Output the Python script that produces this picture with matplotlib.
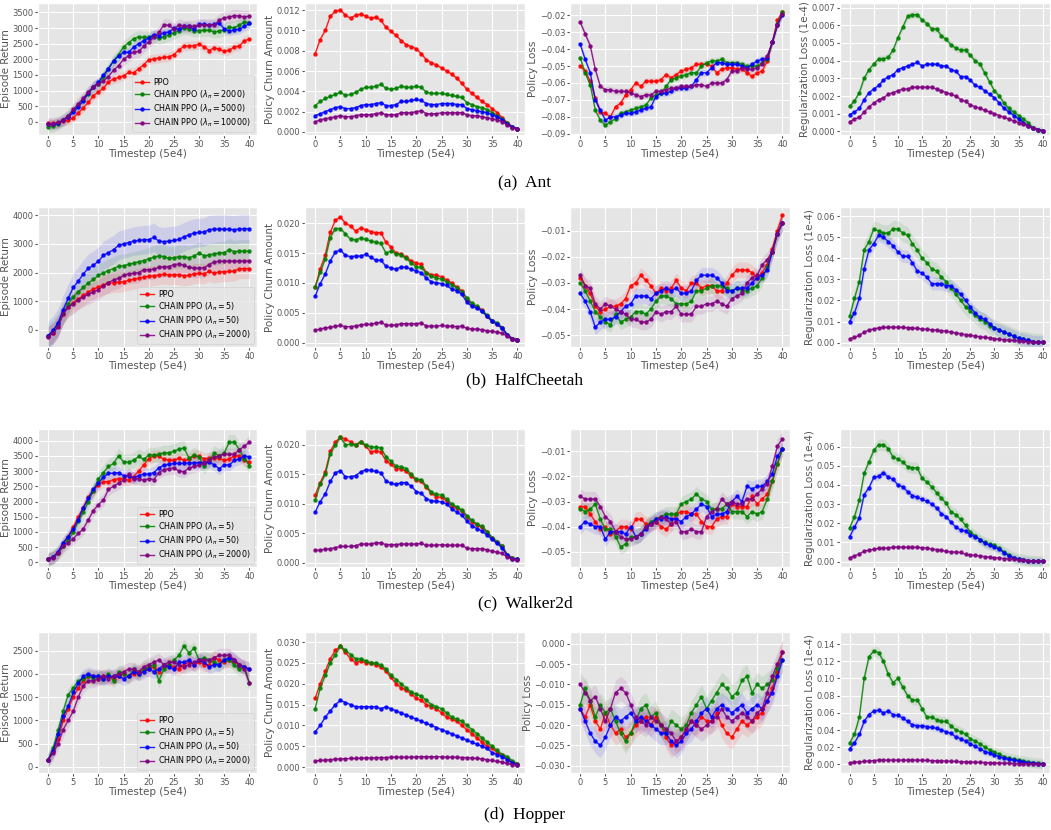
import numpy as np
import matplotlib
matplotlib.use("Agg")
import matplotlib.pyplot as plt
from matplotlib.ticker import MultipleLocator

plt.style.use("ggplot")

steps = np.arange(41)
colors = ["red", "green", "blue", "purple"]
ylabels = ["Episode Return", "Policy Churn Amount", "Policy Loss", "Regularization Loss (1e-4)"]

# ---------------- Ant ----------------
ant_lambdas = ["2000", "5000", "10000"]
ant_return = [
    [-50, -50, -30, 20, 50, 130, 280, 450, 620, 830, 960, 1070, 1280, 1370, 1420, 1480, 1580, 1570, 1700, 1820,
     1990, 2010, 2040, 2060, 2080, 2150, 2300, 2420, 2430, 2440, 2480, 2400, 2280, 2370, 2320, 2260, 2290, 2400, 2420, 2600, 2640],
    [-160, -130, -60, 50, 180, 360, 520, 700, 900, 1100, 1200, 1420, 1700, 1950, 2150, 2400, 2530, 2660, 2720, 2700,
     2700, 2730, 2680, 2720, 2780, 2850, 2920, 3000, 2960, 2920, 2920, 2930, 2930, 2880, 2900, 2950, 3020, 3010, 3100, 3190, 3170],
    [-80, -80, -40, 50, 150, 300, 480, 680, 930, 1120, 1270, 1500, 1700, 1950, 2100, 2230, 2220, 2390, 2500, 2600,
     2680, 2790, 2760, 2850, 2870, 3000, 2960, 3050, 3050, 2960, 3120, 3120, 3100, 3120, 3150, 2980, 2900, 2940, 2960, 3050, 3150],
    [-60, -60, -20, 60, 200, 400, 580, 760, 960, 1120, 1210, 1300, 1450, 1650, 1800, 2000, 2120, 2230, 2250, 2420,
     2550, 2700, 2860, 3100, 3090, 2960, 3100, 3050, 3050, 3050, 3100, 3100, 3100, 3100, 3250, 3330, 3350, 3400, 3380, 3360, 3380],
]
ant_churn = [
    [0.0077, 0.0091, 0.0100, 0.0114, 0.0119, 0.0120, 0.0115, 0.0112, 0.0115, 0.0116, 0.0114, 0.0112, 0.0113, 0.0110,
     0.0103, 0.0099, 0.0095, 0.0090, 0.0086, 0.0084, 0.0082, 0.0077, 0.0071, 0.0068, 0.0066, 0.0063, 0.0060, 0.0057,
     0.0053, 0.0048, 0.0042, 0.0038, 0.0034, 0.0030, 0.0027, 0.0023, 0.0019, 0.0014, 0.0009, 0.0005, 0.0003],
    [0.0026, 0.0030, 0.0033, 0.0035, 0.0037, 0.0039, 0.0036, 0.0037, 0.0039, 0.0042, 0.0044, 0.0044, 0.0045, 0.0047,
     0.0043, 0.0042, 0.0043, 0.0045, 0.0044, 0.0044, 0.0045, 0.0044, 0.0039, 0.0038, 0.0038, 0.0038, 0.0037, 0.0036,
     0.0035, 0.0034, 0.0029, 0.0027, 0.0025, 0.0024, 0.0022, 0.0019, 0.0016, 0.0013, 0.0009, 0.0005, 0.0003],
    [0.0016, 0.0018, 0.0020, 0.0022, 0.0024, 0.0025, 0.0023, 0.0023, 0.0024, 0.0026, 0.0027, 0.0027, 0.0028, 0.0029,
     0.0026, 0.0026, 0.0027, 0.0030, 0.0030, 0.0031, 0.0032, 0.0031, 0.0028, 0.0027, 0.0027, 0.0028, 0.0028, 0.0028,
     0.0027, 0.0027, 0.0023, 0.0022, 0.0021, 0.0020, 0.0019, 0.0017, 0.0015, 0.0012, 0.0008, 0.0005, 0.0003],
    [0.0010, 0.0012, 0.0013, 0.0014, 0.0015, 0.0016, 0.0015, 0.0015, 0.0016, 0.0017, 0.0017, 0.0017, 0.0018, 0.0019,
     0.0017, 0.0017, 0.0017, 0.0019, 0.0019, 0.0019, 0.0020, 0.0021, 0.0018, 0.0018, 0.0018, 0.0019, 0.0019, 0.0019,
     0.0019, 0.0019, 0.0017, 0.0016, 0.0016, 0.0015, 0.0014, 0.0013, 0.0012, 0.0010, 0.0007, 0.0004, 0.0003],
]
ant_ploss = [
    [-0.050, -0.053, -0.059, -0.069, -0.077, -0.078, -0.080, -0.074, -0.072, -0.067, -0.064, -0.060, -0.062, -0.059,
     -0.059, -0.059, -0.058, -0.055, -0.057, -0.055, -0.053, -0.052, -0.051, -0.049, -0.049, -0.049, -0.050, -0.054,
     -0.052, -0.051, -0.051, -0.052, -0.052, -0.054, -0.056, -0.054, -0.053, -0.047, -0.036, -0.023, -0.018],
    [-0.045, -0.054, -0.061, -0.076, -0.082, -0.085, -0.083, -0.081, -0.078, -0.077, -0.076, -0.075, -0.074, -0.073,
     -0.069, -0.067, -0.066, -0.062, -0.058, -0.057, -0.056, -0.055, -0.054, -0.054, -0.050, -0.048, -0.047, -0.047,
     -0.046, -0.048, -0.048, -0.048, -0.049, -0.050, -0.050, -0.050, -0.048, -0.046, -0.036, -0.025, -0.018],
    [-0.037, -0.046, -0.054, -0.070, -0.076, -0.082, -0.080, -0.080, -0.079, -0.078, -0.078, -0.077, -0.076, -0.075,
     -0.074, -0.068, -0.066, -0.066, -0.065, -0.063, -0.063, -0.063, -0.062, -0.058, -0.054, -0.054, -0.051, -0.048,
     -0.048, -0.049, -0.049, -0.049, -0.050, -0.051, -0.049, -0.047, -0.046, -0.045, -0.036, -0.026, -0.020],
    [-0.024, -0.031, -0.038, -0.052, -0.062, -0.064, -0.064, -0.065, -0.065, -0.065, -0.066, -0.067, -0.068, -0.067,
     -0.067, -0.065, -0.065, -0.064, -0.063, -0.063, -0.062, -0.062, -0.062, -0.061, -0.061, -0.062, -0.060, -0.060,
     -0.060, -0.058, -0.053, -0.053, -0.051, -0.052, -0.052, -0.051, -0.049, -0.044, -0.036, -0.026, -0.019],
]
ant_reg = [
    None,
    [0.00142, 0.00172, 0.0022, 0.0030, 0.0035, 0.0038, 0.0041, 0.0041, 0.0042, 0.0046, 0.0053, 0.0059, 0.0065, 0.0066,
     0.0066, 0.0063, 0.0061, 0.0058, 0.0058, 0.0054, 0.0052, 0.0049, 0.0047, 0.0046, 0.0046, 0.0043, 0.0040, 0.0038,
     0.0033, 0.0028, 0.0023, 0.0020, 0.0016, 0.0013, 0.0011, 0.0009, 0.0007, 0.0005, 0.0002, 0.0001, 0.00005],
    [0.00095, 0.0011, 0.0013, 0.0018, 0.0022, 0.0024, 0.0026, 0.0029, 0.0031, 0.0032, 0.0035, 0.0036, 0.0037, 0.0038,
     0.0039, 0.0037, 0.0038, 0.0038, 0.0038, 0.0037, 0.0037, 0.0035, 0.0034, 0.0031, 0.0031, 0.0029, 0.0026, 0.0025,
     0.0023, 0.0021, 0.0019, 0.0016, 0.0013, 0.0011, 0.0009, 0.0007, 0.0005, 0.0003, 0.0002, 0.0001, 0.00005],
    [0.00055, 0.0007, 0.0008, 0.0011, 0.0014, 0.0016, 0.0018, 0.0019, 0.0021, 0.0022, 0.0023, 0.0024, 0.0024, 0.0025,
     0.0025, 0.0025, 0.0025, 0.0025, 0.0024, 0.0023, 0.0022, 0.0021, 0.0020, 0.0018, 0.0017, 0.0015, 0.0014, 0.0013,
     0.0012, 0.0011, 0.0010, 0.0009, 0.0008, 0.0007, 0.0006, 0.0005, 0.0004, 0.0003, 0.0002, 0.0001, 0.00005],
]

# ---------------- HalfCheetah ----------------
hc_lambdas = ["5", "50", "2000"]
hc_return = [
    [-230, -100, 150, 550, 800, 950, 1080, 1200, 1320, 1420, 1500, 1570, 1620, 1650, 1660, 1680, 1730, 1770, 1800, 1840,
     1870, 1890, 1920, 1940, 1920, 1930, 1930, 1890, 1900, 1960, 1970, 1960, 2040, 1980, 2020, 2030, 2040, 2060, 2130, 2140, 2140],
    [-200, -50, 200, 600, 900, 1150, 1330, 1480, 1640, 1760, 1900, 1990, 2070, 2140, 2220, 2240, 2290, 2330, 2380, 2420,
     2480, 2540, 2580, 2560, 2500, 2520, 2560, 2560, 2520, 2580, 2680, 2590, 2610, 2660, 2680, 2700, 2800, 2730, 2750, 2750, 2750],
    [-200, -20, 250, 700, 1100, 1480, 1700, 1950, 2150, 2250, 2400, 2600, 2700, 2800, 2950, 3000, 3050, 3100, 3120, 3150,
     3150, 3230, 3100, 3080, 3100, 3120, 3160, 3250, 3320, 3380, 3400, 3420, 3500, 3520, 3520, 3520, 3510, 3500, 3520, 3530, 3530],
    [-250, -120, 100, 550, 800, 900, 1050, 1150, 1250, 1320, 1400, 1540, 1650, 1740, 1800, 1900, 1960, 1970, 2000, 2100,
     2100, 2120, 2180, 2200, 2210, 2280, 2300, 2250, 2180, 2160, 2160, 2170, 2280, 2380, 2390, 2400, 2400, 2400, 2400, 2400, 2400],
]
hc_churn = [
    [0.0093, 0.0123, 0.0147, 0.0185, 0.0205, 0.0210, 0.0200, 0.0195, 0.0187, 0.0192, 0.0189, 0.0186, 0.0184, 0.0184,
     0.0168, 0.0160, 0.0150, 0.0148, 0.0143, 0.0137, 0.0133, 0.0131, 0.0117, 0.0114, 0.0113, 0.0110, 0.0105, 0.0100,
     0.0093, 0.0087, 0.0073, 0.0065, 0.0060, 0.0055, 0.0045, 0.0037, 0.0032, 0.0025, 0.0013, 0.0007, 0.0005],
    [0.0093, 0.0118, 0.0140, 0.0176, 0.0191, 0.0191, 0.0182, 0.0173, 0.0172, 0.0175, 0.0173, 0.0170, 0.0168, 0.0166,
     0.0150, 0.0153, 0.0149, 0.0147, 0.0141, 0.0134, 0.0127, 0.0126, 0.0116, 0.0111, 0.0109, 0.0106, 0.0102, 0.0097,
     0.0092, 0.0085, 0.0075, 0.0066, 0.0061, 0.0054, 0.0046, 0.0037, 0.0033, 0.0025, 0.0013, 0.0007, 0.0005],
    [0.0078, 0.0099, 0.0115, 0.0137, 0.0152, 0.0155, 0.0146, 0.0144, 0.0145, 0.0145, 0.0148, 0.0143, 0.0138, 0.0138,
     0.0128, 0.0125, 0.0123, 0.0127, 0.0126, 0.0123, 0.0120, 0.0117, 0.0108, 0.0102, 0.0100, 0.0099, 0.0096, 0.0090,
     0.0087, 0.0081, 0.0068, 0.0061, 0.0058, 0.0053, 0.0044, 0.0036, 0.0031, 0.0024, 0.0013, 0.0007, 0.0005],
    [0.0021, 0.0023, 0.0025, 0.0026, 0.0028, 0.0029, 0.0027, 0.0027, 0.0028, 0.0030, 0.0031, 0.0031, 0.0033, 0.0034,
     0.0030, 0.0029, 0.0030, 0.0032, 0.0032, 0.0032, 0.0032, 0.0033, 0.0028, 0.0028, 0.0028, 0.0029, 0.0028, 0.0028,
     0.0027, 0.0028, 0.0024, 0.0023, 0.0023, 0.0022, 0.0020, 0.0019, 0.0018, 0.0016, 0.0011, 0.0006, 0.0004],
]
hc_ploss = [
    [-0.028, -0.031, -0.034, -0.039, -0.041, -0.040, -0.039, -0.039, -0.038, -0.036, -0.031, -0.030, -0.027, -0.029,
     -0.031, -0.034, -0.032, -0.033, -0.032, -0.029, -0.032, -0.033, -0.030, -0.030, -0.032, -0.031, -0.031, -0.033,
     -0.033, -0.030, -0.027, -0.025, -0.025, -0.025, -0.026, -0.028, -0.026, -0.023, -0.017, -0.010, -0.004],
    [-0.030, -0.033, -0.037, -0.041, -0.043, -0.045, -0.046, -0.042, -0.045, -0.044, -0.043, -0.041, -0.041, -0.042,
     -0.040, -0.037, -0.035, -0.035, -0.036, -0.038, -0.038, -0.038, -0.037, -0.033, -0.033, -0.032, -0.031, -0.031,
     -0.031, -0.032, -0.033, -0.032, -0.033, -0.033, -0.032, -0.031, -0.028, -0.024, -0.018, -0.011, -0.007],
    [-0.034, -0.037, -0.041, -0.047, -0.045, -0.044, -0.044, -0.043, -0.041, -0.039, -0.038, -0.035, -0.035, -0.035,
     -0.036, -0.034, -0.033, -0.032, -0.033, -0.032, -0.034, -0.034, -0.033, -0.029, -0.027, -0.027, -0.027, -0.028,
     -0.030, -0.033, -0.033, -0.032, -0.032, -0.032, -0.030, -0.028, -0.027, -0.025, -0.018, -0.011, -0.007],
    [-0.027, -0.031, -0.032, -0.038, -0.040, -0.038, -0.039, -0.040, -0.041, -0.042, -0.044, -0.044, -0.045, -0.045,
     -0.044, -0.041, -0.042, -0.041, -0.041, -0.039, -0.042, -0.042, -0.042, -0.039, -0.039, -0.038, -0.038, -0.037,
     -0.038, -0.039, -0.036, -0.035, -0.034, -0.030, -0.028, -0.027, -0.023, -0.021, -0.018, -0.011, -0.007],
]
hc_reg = [
    None,
    [0.0125, 0.021, 0.029, 0.044, 0.048, 0.054, 0.053, 0.052, 0.052, 0.054, 0.054, 0.052, 0.051, 0.047, 0.044, 0.040,
     0.038, 0.035, 0.034, 0.031, 0.029, 0.026, 0.023, 0.020, 0.017, 0.015, 0.013, 0.011, 0.010, 0.008, 0.007, 0.006,
     0.005, 0.004, 0.003, 0.002, 0.0015, 0.001, 0.0005, 0.0003, 0.0002],
    [0.010, 0.014, 0.021, 0.035, 0.044, 0.047, 0.051, 0.050, 0.048, 0.046, 0.043, 0.041, 0.041, 0.038, 0.034, 0.033,
     0.031, 0.028, 0.028, 0.028, 0.027, 0.027, 0.025, 0.023, 0.020, 0.017, 0.014, 0.012, 0.011, 0.009, 0.007, 0.006,
     0.005, 0.004, 0.003, 0.002, 0.0015, 0.001, 0.0005, 0.0003, 0.0002],
    [0.0018, 0.0025, 0.0035, 0.005, 0.006, 0.0065, 0.007, 0.0072, 0.0073, 0.0073, 0.0073, 0.0072, 0.0071, 0.0069,
     0.0067, 0.0065, 0.0063, 0.0061, 0.0059, 0.0057, 0.0054, 0.0050, 0.0046, 0.0042, 0.0038, 0.0034, 0.0031, 0.0028,
     0.0025, 0.0022, 0.0019, 0.0016, 0.0014, 0.0012, 0.0010, 0.0008, 0.0006, 0.0004, 0.0003, 0.0002, 0.0001],
]

# ---------------- Walker2d ----------------
wk_lambdas = ["5", "50", "2000"]
wk_return = [
    [100, 170, 320, 600, 850, 1150, 1500, 1800, 2150, 2350, 2550, 2650, 2650, 2720, 2750, 2750, 2700, 2820, 3000, 3200,
     3400, 3500, 3500, 3380, 3370, 3350, 3420, 3350, 3380, 3500, 3480, 3400, 3420, 3430, 3420, 3350, 3400, 3500, 3500, 3350, 3300],
    [100, 170, 320, 550, 750, 1000, 1350, 1650, 2000, 2350, 2750, 2950, 3150, 3250, 3500, 3300, 3300, 3350, 3480, 3380,
     3530, 3530, 3550, 3600, 3600, 3650, 3720, 3760, 3420, 3530, 3450, 3150, 3350, 3580, 3500, 3600, 3950, 3950, 3700, 3400, 3180],
    [100, 180, 350, 650, 850, 1100, 1400, 1800, 2100, 2400, 2600, 2800, 2920, 2930, 2950, 2850, 2850, 2780, 2850, 2900,
     2900, 2950, 3100, 3200, 3220, 3250, 3250, 3250, 3270, 3270, 3280, 3280, 3300, 3200, 3080, 3200, 3200, 3350, 3400, 3500, 3460],
    [100, 160, 300, 530, 650, 780, 950, 1100, 1400, 1700, 1900, 2050, 2400, 2500, 2600, 2700, 2900, 2750, 2750, 2700,
     2750, 2720, 2950, 3050, 3080, 3100, 3000, 2980, 3100, 3150, 3200, 3250, 3350, 3450, 3500, 3550, 3550, 3550, 3700, 3820, 3950],
]
wk_churn = [
    [0.0115, 0.0136, 0.0154, 0.0189, 0.0205, 0.0213, 0.0210, 0.0205, 0.0200, 0.0205, 0.0198, 0.0188, 0.0190, 0.0188,
     0.0173, 0.0167, 0.0160, 0.0160, 0.0155, 0.0147, 0.0140, 0.0138, 0.0128, 0.0118, 0.0112, 0.0111, 0.0105, 0.0097,
     0.0093, 0.0088, 0.0078, 0.0070, 0.0064, 0.0060, 0.0052, 0.0042, 0.0035, 0.0028, 0.0013, 0.0008, 0.0006],
    [0.0107, 0.0133, 0.0150, 0.0185, 0.0200, 0.0213, 0.0200, 0.0201, 0.0200, 0.0205, 0.0200, 0.0197, 0.0196, 0.0195,
     0.0180, 0.0172, 0.0164, 0.0163, 0.0160, 0.0150, 0.0142, 0.0141, 0.0130, 0.0120, 0.0116, 0.0115, 0.0108, 0.0100,
     0.0095, 0.0090, 0.0080, 0.0072, 0.0066, 0.0062, 0.0053, 0.0043, 0.0036, 0.0028, 0.0013, 0.0008, 0.0006],
    [0.0086, 0.0104, 0.0117, 0.0138, 0.0153, 0.0156, 0.0146, 0.0146, 0.0148, 0.0154, 0.0158, 0.0157, 0.0155, 0.0153,
     0.0139, 0.0135, 0.0133, 0.0136, 0.0136, 0.0130, 0.0121, 0.0118, 0.0109, 0.0105, 0.0105, 0.0103, 0.0100, 0.0092,
     0.0086, 0.0081, 0.0071, 0.0063, 0.0058, 0.0054, 0.0047, 0.0040, 0.0033, 0.0025, 0.0013, 0.0007, 0.0006],
    [0.0021, 0.0022, 0.0023, 0.0024, 0.0026, 0.0028, 0.0028, 0.0028, 0.0029, 0.0032, 0.0032, 0.0032, 0.0034, 0.0034,
     0.0031, 0.0031, 0.0031, 0.0032, 0.0032, 0.0032, 0.0032, 0.0033, 0.0030, 0.0030, 0.0030, 0.0031, 0.0030, 0.0030,
     0.0030, 0.0030, 0.0025, 0.0024, 0.0024, 0.0024, 0.0022, 0.0020, 0.0018, 0.0016, 0.0010, 0.0006, 0.0005],
]
wk_ploss = [
    [-0.032, -0.032, -0.035, -0.038, -0.041, -0.040, -0.043, -0.042, -0.040, -0.040, -0.041, -0.037, -0.037, -0.039,
     -0.039, -0.038, -0.040, -0.041, -0.039, -0.035, -0.034, -0.034, -0.035, -0.035, -0.038, -0.040, -0.040, -0.037,
     -0.036, -0.036, -0.031, -0.032, -0.032, -0.032, -0.028, -0.031, -0.029, -0.027, -0.022, -0.015, -0.009],
    [-0.033, -0.034, -0.033, -0.031, -0.037, -0.041, -0.041, -0.044, -0.048, -0.047, -0.044, -0.044, -0.043, -0.040,
     -0.038, -0.037, -0.036, -0.035, -0.035, -0.035, -0.031, -0.030, -0.029, -0.027, -0.029, -0.030, -0.033, -0.033,
     -0.033, -0.031, -0.034, -0.034, -0.034, -0.036, -0.034, -0.035, -0.034, -0.029, -0.022, -0.015, -0.009],
    [-0.040, -0.038, -0.039, -0.040, -0.040, -0.045, -0.042, -0.042, -0.042, -0.043, -0.040, -0.044, -0.043, -0.041,
     -0.039, -0.037, -0.037, -0.036, -0.037, -0.037, -0.038, -0.036, -0.035, -0.033, -0.031, -0.032, -0.036, -0.035,
     -0.035, -0.034, -0.030, -0.028, -0.030, -0.024, -0.025, -0.024, -0.024, -0.022, -0.019, -0.012, -0.009],
    [-0.028, -0.029, -0.029, -0.029, -0.032, -0.036, -0.038, -0.042, -0.044, -0.045, -0.045, -0.044, -0.043, -0.040,
     -0.039, -0.038, -0.036, -0.037, -0.039, -0.038, -0.042, -0.042, -0.041, -0.042, -0.042, -0.036, -0.034, -0.033,
     -0.029, -0.031, -0.030, -0.031, -0.031, -0.029, -0.029, -0.027, -0.025, -0.023, -0.016, -0.008, -0.005],
]
wk_reg = [
    None,
    [0.0175, 0.0235, 0.032, 0.046, 0.052, 0.058, 0.061, 0.061, 0.059, 0.0545, 0.0535, 0.052, 0.0495, 0.049, 0.049,
     0.0435, 0.0415, 0.039, 0.036, 0.033, 0.0305, 0.026, 0.0245, 0.022, 0.019, 0.0155, 0.0135, 0.0115, 0.010, 0.009,
     0.0085, 0.007, 0.005, 0.0035, 0.002, 0.0015, 0.001, 0.0005, 0.0003, 0.0002, 0.0001],
    [0.013, 0.018, 0.023, 0.035, 0.0385, 0.044, 0.0445, 0.0465, 0.044, 0.043, 0.040, 0.039, 0.0365, 0.0345, 0.0335,
     0.0325, 0.0315, 0.030, 0.028, 0.025, 0.0235, 0.0205, 0.018, 0.0165, 0.016, 0.014, 0.013, 0.0115, 0.0095, 0.0085,
     0.0075, 0.0065, 0.0045, 0.003, 0.002, 0.0012, 0.0008, 0.0005, 0.0003, 0.0002, 0.0001],
    [0.002, 0.003, 0.004, 0.0055, 0.006, 0.0065, 0.007, 0.007, 0.0072, 0.0075, 0.0076, 0.0075, 0.0075, 0.0075, 0.0075,
     0.0073, 0.0071, 0.0066, 0.0063, 0.006, 0.0053, 0.0051, 0.005, 0.0048, 0.0038, 0.0035, 0.0033, 0.003, 0.0026,
     0.0024, 0.0021, 0.0019, 0.0016, 0.0014, 0.0012, 0.0009, 0.0007, 0.0005, 0.0003, 0.0002, 0.0001],
]

# ---------------- Hopper ----------------
hp_lambdas = ["5", "50", "2000"]
hp_return = [
    [150, 350, 600, 1000, 1250, 1500, 1700, 1850, 1950, 1950, 1900, 1950, 1950, 1900, 1950, 2000, 1950, 2000, 2050, 2100,
     2100, 2150, 2050, 2150, 2200, 2150, 2100, 2200, 2250, 2200, 2250, 2200, 2200, 2350, 2300, 2250, 2300, 2250, 2200, 2150, 2100],
    [150, 400, 800, 1200, 1550, 1700, 1850, 1900, 1950, 1900, 1950, 1900, 2000, 1850, 2050, 2000, 1950, 2100, 2000, 2100,
     2150, 2200, 1850, 2100, 2200, 2300, 2400, 2600, 2450, 2550, 2300, 2350, 2300, 2250, 2200, 2300, 2300, 2200, 2100, 2150, 1800],
    [150, 350, 700, 1100, 1300, 1600, 1800, 1950, 2000, 1950, 1950, 1900, 1950, 1950, 1950, 1900, 1950, 2050, 2000, 2050,
     2100, 2050, 2100, 2200, 2150, 2100, 2250, 2250, 2300, 2200, 2300, 2250, 2150, 2200, 2200, 2300, 2350, 2300, 2200, 2150, 2100],
    [150, 300, 500, 800, 1000, 1200, 1500, 1750, 1850, 1850, 1900, 1950, 1900, 1950, 2000, 2050, 2100, 2100, 2050, 2150,
     2200, 2250, 2300, 2200, 2250, 2250, 2200, 2150, 2200, 2250, 2300, 2300, 2300, 2350, 2400, 2400, 2400, 2300, 2200, 2100, 1800],
]
hp_churn = [
    [0.0165, 0.020, 0.023, 0.026, 0.028, 0.029, 0.0275, 0.026, 0.025, 0.0255, 0.025, 0.025, 0.0245, 0.024, 0.023, 0.0215,
     0.020, 0.019, 0.0185, 0.0175, 0.0165, 0.016, 0.015, 0.0145, 0.014, 0.013, 0.012, 0.0115, 0.011, 0.010, 0.009,
     0.008, 0.007, 0.006, 0.005, 0.0045, 0.0035, 0.003, 0.0022, 0.0012, 0.0008],
    [0.014, 0.019, 0.022, 0.025, 0.027, 0.029, 0.028, 0.027, 0.026, 0.026, 0.0255, 0.025, 0.025, 0.0245, 0.0235, 0.022,
     0.021, 0.020, 0.019, 0.018, 0.0175, 0.017, 0.016, 0.015, 0.0145, 0.014, 0.013, 0.012, 0.0115, 0.011, 0.010, 0.009,
     0.008, 0.007, 0.006, 0.005, 0.004, 0.003, 0.0025, 0.0015, 0.0008],
    [0.0085, 0.010, 0.012, 0.0135, 0.015, 0.016, 0.0155, 0.015, 0.0145, 0.0145, 0.0145, 0.0145, 0.0145, 0.014, 0.0145,
     0.014, 0.0135, 0.013, 0.0125, 0.012, 0.0115, 0.011, 0.0105, 0.010, 0.0095, 0.009, 0.0085, 0.008, 0.0075, 0.007,
     0.0065, 0.006, 0.0055, 0.005, 0.0045, 0.0035, 0.003, 0.0025, 0.0018, 0.001, 0.0006],
    [0.0015, 0.0016, 0.0017, 0.0018, 0.0019, 0.002, 0.002, 0.0021, 0.0021, 0.0022, 0.0022, 0.0022, 0.0023, 0.0023,
     0.0023, 0.0024, 0.0024, 0.0024, 0.0024, 0.0024, 0.0025, 0.0025, 0.0025, 0.0025, 0.0025, 0.0025, 0.0024, 0.0024,
     0.0024, 0.0023, 0.0023, 0.0022, 0.0021, 0.002, 0.0018, 0.0016, 0.0014, 0.0012, 0.0009, 0.0006, 0.0004],
]
hp_ploss = [
    [-0.016, -0.018, -0.015, -0.019, -0.021, -0.017, -0.020, -0.022, -0.021, -0.023, -0.022, -0.020, -0.019, -0.018,
     -0.020, -0.018, -0.020, -0.023, -0.025, -0.024, -0.023, -0.021, -0.019, -0.020, -0.018, -0.019, -0.019, -0.017,
     -0.020, -0.022, -0.023, -0.021, -0.019, -0.020, -0.019, -0.018, -0.017, -0.014, -0.011, -0.007, -0.002],
    [-0.015, -0.011, -0.014, -0.018, -0.015, -0.017, -0.016, -0.019, -0.022, -0.024, -0.022, -0.019, -0.016, -0.015,
     -0.018, -0.017, -0.020, -0.022, -0.019, -0.020, -0.021, -0.020, -0.017, -0.015, -0.013, -0.016, -0.014, -0.012,
     -0.010, -0.011, -0.013, -0.012, -0.009, -0.008, -0.012, -0.010, -0.011, -0.010, -0.009, -0.006, -0.004],
    [-0.016, -0.019, -0.022, -0.024, -0.025, -0.023, -0.020, -0.018, -0.019, -0.018, -0.017, -0.019, -0.018, -0.019,
     -0.020, -0.021, -0.022, -0.022, -0.024, -0.025, -0.024, -0.022, -0.021, -0.019, -0.017, -0.016, -0.018, -0.016,
     -0.015, -0.016, -0.017, -0.016, -0.015, -0.017, -0.016, -0.015, -0.016, -0.014, -0.012, -0.008, -0.004],
    [-0.010, -0.012, -0.014, -0.013, -0.016, -0.019, -0.016, -0.012, -0.011, -0.012, -0.015, -0.018, -0.019, -0.020,
     -0.018, -0.019, -0.020, -0.021, -0.022, -0.024, -0.023, -0.021, -0.019, -0.020, -0.021, -0.020, -0.019, -0.018,
     -0.016, -0.018, -0.019, -0.018, -0.017, -0.018, -0.019, -0.017, -0.016, -0.012, -0.008, -0.005, -0.002],
]
hp_reg = [
    None,
    [0.025, 0.035, 0.055, 0.10, 0.125, 0.132, 0.13, 0.12, 0.105, 0.095, 0.10, 0.09, 0.08, 0.075, 0.075, 0.065, 0.055,
     0.055, 0.052, 0.05, 0.05, 0.045, 0.04, 0.038, 0.035, 0.03, 0.027, 0.024, 0.02, 0.017, 0.014, 0.012, 0.009, 0.007,
     0.006, 0.005, 0.004, 0.003, 0.002, 0.0015, 0.001],
    [0.018, 0.025, 0.035, 0.05, 0.058, 0.062, 0.063, 0.06, 0.062, 0.058, 0.057, 0.054, 0.05, 0.046, 0.045, 0.045, 0.044,
     0.043, 0.042, 0.04, 0.038, 0.036, 0.032, 0.03, 0.027, 0.024, 0.021, 0.018, 0.015, 0.013, 0.011, 0.009, 0.007,
     0.006, 0.005, 0.004, 0.003, 0.002, 0.0015, 0.001, 0.001],
    [0.002, 0.0025, 0.003, 0.0035, 0.004, 0.0045, 0.005, 0.005, 0.005, 0.005, 0.005, 0.005, 0.005, 0.005, 0.005,
     0.0048, 0.0046, 0.0044, 0.0042, 0.004, 0.0038, 0.0036, 0.0034, 0.0032, 0.003, 0.0028, 0.0026, 0.0024, 0.0022,
     0.002, 0.0018, 0.0016, 0.0014, 0.0012, 0.001, 0.0009, 0.0008, 0.0007, 0.0006, 0.0005, 0.0004],
]

# half-widths of the shaded bands, per panel, order: PPO, CHAIN x3
ant_bands = [[150, 200, 150, 200], [0.0002, 0.0001, 0.0001, 0.0001], [0.002, 0.002, 0.002, 0.002], [0, 0.0002, 0.0001, 0.0001]]
hc_bands = [[350, 400, 500, 350], [0.0004, 0.0004, 0.0003, 0.0002], [0.003, 0.003, 0.003, 0.003], [0, 0.004, 0.003, 0.0005]]
wk_bands = [[200, 250, 200, 200], [0.0004, 0.0004, 0.0003, 0.0002], [0.003, 0.003, 0.003, 0.003], [0, 0.003, 0.002, 0.0005]]
hp_bands = [[150, 150, 150, 150], [0.0006, 0.0006, 0.0004, 0.0002], [0.003, 0.003, 0.003, 0.003], [0, 0.006, 0.004, 0.0005]]

ant_ylims = [(-420, 3800), (-0.0003, 0.0127), (-0.0907, -0.0128), (-0.0002, 0.00726)]
hc_ylims = [(-600, 4290), (-0.0007, 0.0227), (-0.0546, -0.0008), (-0.0021, 0.0644)]
wk_ylims = [(-150, 4380), (-0.0007, 0.0227), (-0.0561, -0.0011), (-0.0028, 0.0692)]
hp_ylims = [(-130, 2900), (-0.0014, 0.0324), (-0.0318, 0.0029), (-0.010, 0.154)]

ant_ysteps = [500, 0.002, 0.01, 0.001]
hc_ysteps = [1000, 0.005, 0.01, 0.01]
wk_ysteps = [500, 0.005, 0.01, 0.01]
hp_ysteps = [500, 0.005, 0.005, 0.02]

rows = [
    ("(a)  Ant", ant_lambdas, [ant_return, ant_churn, ant_ploss, ant_reg], ant_bands, ant_ylims, ant_ysteps),
    ("(b)  HalfCheetah", hc_lambdas, [hc_return, hc_churn, hc_ploss, hc_reg], hc_bands, hc_ylims, hc_ysteps),
    ("(c)  Walker2d", wk_lambdas, [wk_return, wk_churn, wk_ploss, wk_reg], wk_bands, wk_ylims, wk_ysteps),
    ("(d)  Hopper", hp_lambdas, [hp_return, hp_churn, hp_ploss, hp_reg], hp_bands, hp_ylims, hp_ysteps),
]

W, H = 1051, 830
fig = plt.figure(figsize=(W / 100, H / 100), dpi=100)
fig.patch.set_facecolor("white")

row_px = [(3, 135), (207, 347), (429, 567), (632, 773)]
col_px = [(38, 257), (305, 525), (570, 790), (840, 1050)]
caption_y = [183, 380, 603, 815]

for r, (caption, lambdas, panels, bands, ylims, ysteps) in enumerate(rows):
    top, bot = row_px[r]
    labels = ["PPO"] + [r"CHAIN PPO ($\lambda_\pi = %s$)" % lam for lam in lambdas]
    for c in range(4):
        left, right = col_px[c]
        ax = fig.add_axes([left / W, 1 - bot / H, (right - left) / W, (bot - top) / H])
        for s in range(4):
            vals = panels[c][s]
            if vals is None:
                continue
            vals = np.array(vals)
            ax.fill_between(steps, vals - bands[c][s], vals + bands[c][s], color=colors[s], alpha=0.1, lw=0)
            ax.plot(steps, vals, color=colors[s], lw=1.0, marker="o", ms=2.2, label=labels[s], alpha=0.85)
        ax.set_xlim(-2, 41.5)
        ax.set_ylim(*ylims[c])
        ax.set_xticks(range(0, 41, 5))
        ax.yaxis.set_major_locator(MultipleLocator(ysteps[c]))
        ax.tick_params(labelsize=6, length=2, pad=1.5)
        ax.set_xlabel("Timestep (5e4)", fontsize=7.5, labelpad=0)
        ax.set_ylabel(ylabels[c], fontsize=7.5, labelpad=1)
        if c == 0:
            ax.legend(loc="lower right", fontsize=5.8, framealpha=0.8, borderpad=0.35, labelspacing=0.2,
                      handlelength=1.8, handletextpad=0.5, borderaxespad=0.4)
    fig.text(525 / W, 1 - caption_y[r] / H, caption, ha="center", va="center",
             fontsize=12.5, family="Liberation Serif", color="black")

fig.savefig("out.png", dpi=100)
